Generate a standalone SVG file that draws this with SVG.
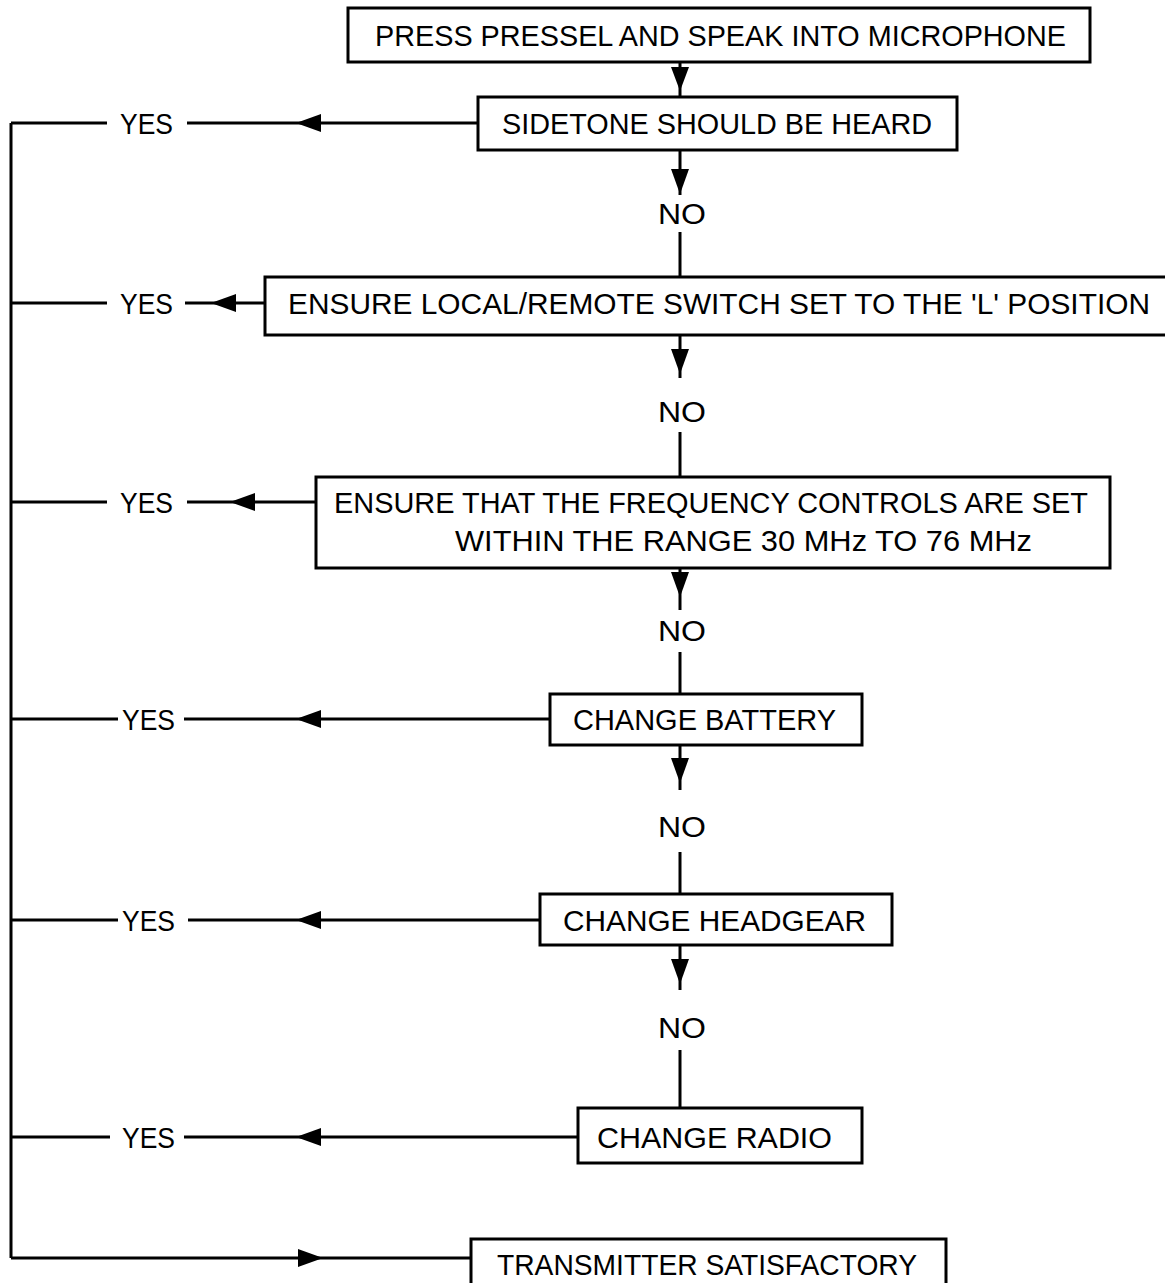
<svg xmlns="http://www.w3.org/2000/svg" width="1165" height="1283" viewBox="0 0 1165 1283">
<defs>
<style>
.box{fill:#fff;stroke:#000;stroke-width:3}
.ln{fill:none;stroke:#000;stroke-width:3}
.ah{fill:#000;stroke:none}
text{font-family:"Liberation Sans",Arial,sans-serif;font-size:29px;fill:#000}
</style>
</defs>
<rect width="1165" height="1283" fill="#fff"/>
<g id="connectors">
<line class="ln" x1="680" y1="62" x2="680" y2="97"/>
<polygon class="ah" points="671,67 689,67 680,91"/>
<line class="ln" x1="680" y1="150" x2="680" y2="195"/>
<polygon class="ah" points="671,169 689,169 680,194"/>
<line class="ln" x1="680" y1="232" x2="680" y2="277"/>
<line class="ln" x1="680" y1="335" x2="680" y2="378"/>
<polygon class="ah" points="671,349 689,349 680,374"/>
<line class="ln" x1="680" y1="432" x2="680" y2="477"/>
<line class="ln" x1="680" y1="568" x2="680" y2="610"/>
<polygon class="ah" points="671,572 689,572 680,597"/>
<line class="ln" x1="680" y1="652" x2="680" y2="694"/>
<line class="ln" x1="680" y1="745" x2="680" y2="790"/>
<polygon class="ah" points="671,758 689,758 680,783"/>
<line class="ln" x1="680" y1="852" x2="680" y2="894"/>
<line class="ln" x1="680" y1="945" x2="680" y2="990"/>
<polygon class="ah" points="671,959 689,959 680,984"/>
<line class="ln" x1="680" y1="1050" x2="680" y2="1108"/>
<line class="ln" x1="11" y1="123" x2="11" y2="1258"/>
<line class="ln" x1="11" y1="123" x2="107" y2="123"/>
<line class="ln" x1="187" y1="123" x2="478" y2="123"/>
<polygon class="ah" points="296,123 321,114 321,132"/>
<line class="ln" x1="11" y1="303" x2="107" y2="303"/>
<line class="ln" x1="185" y1="303" x2="265" y2="303"/>
<polygon class="ah" points="211,303 236,294 236,312"/>
<line class="ln" x1="11" y1="502" x2="107" y2="502"/>
<line class="ln" x1="187" y1="502" x2="316" y2="502"/>
<polygon class="ah" points="230,502 255,493 255,511"/>
<line class="ln" x1="11" y1="719" x2="118" y2="719"/>
<line class="ln" x1="184" y1="719" x2="550" y2="719"/>
<polygon class="ah" points="296,719 321,710 321,728"/>
<line class="ln" x1="11" y1="920" x2="118" y2="920"/>
<line class="ln" x1="188" y1="920" x2="540" y2="920"/>
<polygon class="ah" points="296,920 321,911 321,929"/>
<line class="ln" x1="11" y1="1137" x2="110" y2="1137"/>
<line class="ln" x1="184" y1="1137" x2="578" y2="1137"/>
<polygon class="ah" points="296,1137 321,1128 321,1146"/>
<line class="ln" x1="11" y1="1258" x2="471" y2="1258"/>
<polygon class="ah" points="323,1258 298,1249 298,1267"/>
</g>
<g id="labels">
<text x="120" y="134" textLength="53" lengthAdjust="spacingAndGlyphs">YES</text>
<text x="120" y="314" textLength="53" lengthAdjust="spacingAndGlyphs">YES</text>
<text x="120" y="513" textLength="53" lengthAdjust="spacingAndGlyphs">YES</text>
<text x="122" y="730" textLength="53" lengthAdjust="spacingAndGlyphs">YES</text>
<text x="122" y="931" textLength="53" lengthAdjust="spacingAndGlyphs">YES</text>
<text x="122" y="1148" textLength="53" lengthAdjust="spacingAndGlyphs">YES</text>
<text x="658" y="224" textLength="48" lengthAdjust="spacingAndGlyphs">NO</text>
<text x="658" y="422" textLength="48" lengthAdjust="spacingAndGlyphs">NO</text>
<text x="658" y="641" textLength="48" lengthAdjust="spacingAndGlyphs">NO</text>
<text x="658" y="837" textLength="48" lengthAdjust="spacingAndGlyphs">NO</text>
<text x="658" y="1038" textLength="48" lengthAdjust="spacingAndGlyphs">NO</text>
</g>
<g id="n1">
<rect class="box" x="348" y="8" width="742" height="54"/>
<text x="375" y="46" textLength="691" lengthAdjust="spacingAndGlyphs">PRESS PRESSEL AND SPEAK INTO MICROPHONE</text>
</g>
<g id="n2">
<rect class="box" x="478" y="97" width="479" height="53"/>
<text x="502" y="134" textLength="430" lengthAdjust="spacingAndGlyphs">SIDETONE SHOULD BE HEARD</text>
</g>
<g id="n3">
<rect class="box" x="265" y="277" width="910" height="58"/>
<text x="288" y="314" textLength="862" lengthAdjust="spacingAndGlyphs">ENSURE LOCAL/REMOTE SWITCH SET TO THE 'L' POSITION</text>
</g>
<g id="n4">
<rect class="box" x="316" y="477" width="794" height="91"/>
<text x="334" y="513" textLength="754" lengthAdjust="spacingAndGlyphs">ENSURE THAT THE FREQUENCY CONTROLS ARE SET</text>
<text x="455" y="551" textLength="577" lengthAdjust="spacingAndGlyphs">WITHIN THE RANGE 30 MHz TO 76 MHz</text>
</g>
<g id="n5">
<rect class="box" x="550" y="694" width="312" height="51"/>
<text x="573" y="730" textLength="263" lengthAdjust="spacingAndGlyphs">CHANGE BATTERY</text>
</g>
<g id="n6">
<rect class="box" x="540" y="894" width="352" height="51"/>
<text x="563" y="931" textLength="303" lengthAdjust="spacingAndGlyphs">CHANGE HEADGEAR</text>
</g>
<g id="n7">
<rect class="box" x="578" y="1108" width="284" height="55"/>
<text x="597" y="1148" textLength="235" lengthAdjust="spacingAndGlyphs">CHANGE RADIO</text>
</g>
<g id="n8">
<rect class="box" x="471" y="1239" width="475" height="60"/>
<text x="497" y="1275" textLength="420" lengthAdjust="spacingAndGlyphs">TRANSMITTER SATISFACTORY</text>
</g>
</svg>
